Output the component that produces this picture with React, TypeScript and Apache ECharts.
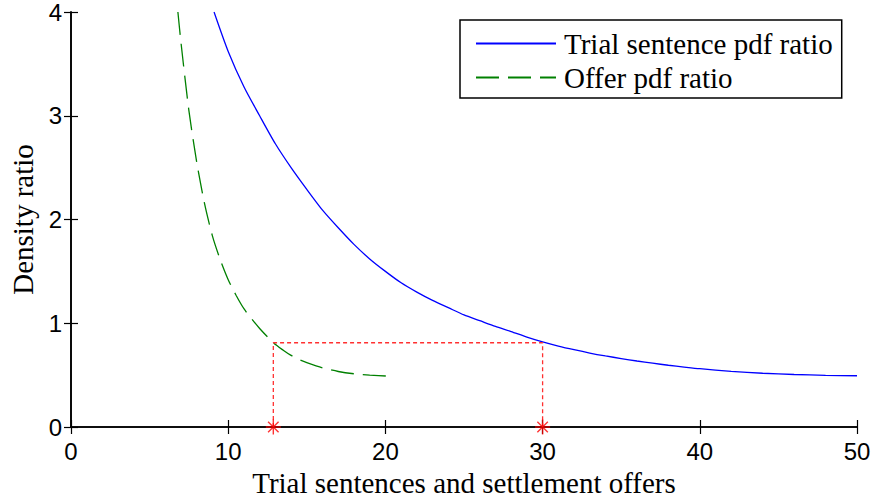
import React, { useEffect, useRef } from "react";
import * as echarts from "echarts";

const xTicks = [0, 10, 20, 30, 40, 50];
const yTicks = [0, 1, 2, 3, 4];

const trialX = [9.1, 10, 11, 12, 13, 14, 15, 16, 17, 18, 19, 20, 21, 22, 23, 24, 25, 26, 27, 28, 29, 30, 31, 32, 33, 34, 35, 36, 37, 38, 39, 40, 42, 44, 46, 48, 50];
const trialY = [4.0, 3.62, 3.28, 3.0, 2.73, 2.5, 2.29, 2.09, 1.92, 1.76, 1.62, 1.5, 1.39, 1.3, 1.22, 1.15, 1.08, 1.025, 0.97, 0.92, 0.866, 0.82, 0.78, 0.745, 0.713, 0.685, 0.66, 0.636, 0.615, 0.595, 0.578, 0.562, 0.537, 0.518, 0.506, 0.498, 0.494];

const offerX = [6.8, 7.0, 7.5, 8.0, 8.5, 9.0, 9.5, 10.0, 10.5, 11.0, 11.5, 12.0, 12.87, 13.5, 14.0, 14.5, 15, 16, 17, 18, 19, 20.2];
const offerY = [4.0, 3.7, 3.05, 2.55, 2.15, 1.84, 1.61, 1.42, 1.27, 1.14, 1.04, 0.95, 0.812, 0.74, 0.69, 0.65, 0.62, 0.57, 0.535, 0.513, 0.5, 0.49];

const guideX = [12.87, 12.87, 30, 30];
const guideY = [0, 0.812, 0.812, 0];

const markX = [12.87, 30];
const markY = [0, 0];

const seriesNames = ["Trial sentence pdf ratio", "Offer pdf ratio"];
const xTitle = "Trial sentences and settlement offers";
const yTitle = "Density ratio";

const zip = (xs: number[], ys: number[]) => xs.map((x, i) => [x, ys[i]]);

const STAR = "path://M0,-10 L0,10 M-10,0 L10,0 M-7,-7 L7,7 M-7,7 L7,-7";

export default function App() {
  const ref = useRef<HTMLDivElement>(null);
  useEffect(() => {
    if (!ref.current) return;
    const chart = echarts.init(ref.current, undefined, { renderer: "svg" });
    const axisLine = { show: true, lineStyle: { color: "#000", width: 1.6 } };
    const tick = { show: true, inside: true, length: 7, lineStyle: { color: "#000", width: 1.2 } };
    const sansLabel = { fontFamily: "Liberation Sans", fontSize: 24, color: "#000" };
    const serif = { fontFamily: "Liberation Serif", fontSize: 29, color: "#000" };
    chart.setOption({
      animation: false,
      backgroundColor: "#fff",
      grid: { left: 71, right: 18, top: 8, bottom: 74, containLabel: false },
      xAxis: [
        {
          type: "value",
          min: xTicks[0],
          max: xTicks[xTicks.length - 1],
          interval: 10,
          position: "bottom",
          axisLine,
          axisTick: tick,
          splitLine: { show: false },
          axisLabel: { ...sansLabel, margin: 12 },
          name: xTitle,
          nameLocation: "middle",
          nameGap: 41,
          nameTextStyle: serif,
        },
        {
          type: "value",
          min: xTicks[0],
          max: xTicks[xTicks.length - 1],
          interval: 10,
          position: "top",
          axisLine,
          axisTick: tick,
          splitLine: { show: false },
          axisLabel: { show: false },
        },
      ],
      yAxis: [
        {
          type: "value",
          min: yTicks[0],
          max: yTicks[yTicks.length - 1],
          interval: 1,
          position: "left",
          axisLine,
          axisTick: tick,
          splitLine: { show: false },
          axisLabel: { ...sansLabel, margin: 9 },
          name: yTitle,
          nameLocation: "middle",
          nameGap: 33,
          nameTextStyle: serif,
        },
        {
          type: "value",
          min: yTicks[0],
          max: yTicks[yTicks.length - 1],
          interval: 1,
          position: "right",
          axisLine,
          axisTick: tick,
          splitLine: { show: false },
          axisLabel: { show: false },
        },
      ],
      legend: {
        data: seriesNames,
        orient: "vertical",
        left: 460,
        top: 20,
        padding: [9, 9, 6, 15],
        itemWidth: 80,
        itemHeight: 29,
        itemGap: 5,
        borderColor: "#000",
        borderWidth: 1.5,
        backgroundColor: "#fff",
        itemStyle: { opacity: 0 },
        textStyle: { ...serif, padding: [0, 0, 0, 3] },
      },
      series: [
        {
          name: seriesNames[0],
          type: "line",
          data: zip(trialX, trialY),
          symbol: "none",
          smooth: 0.25,
          lineStyle: { color: "#0000ff", width: 1.3 },
          itemStyle: { color: "#0000ff" },
        },
        {
          name: seriesNames[1],
          type: "line",
          data: zip(offerX, offerY),
          symbol: "none",
          smooth: 0.25,
          lineStyle: { color: "#008000", width: 1.3, type: [23, 9] },
          itemStyle: { color: "#008000" },
        },
        {
          name: "guide",
          type: "line",
          data: zip(guideX, guideY),
          symbol: "none",
          lineStyle: { color: "#ff3030", width: 1.3, type: [4, 3] },
          z: 3,
        },
        {
          name: "marks",
          type: "scatter",
          data: zip(markX, markY),
          symbol: STAR,
          symbolSize: 15,
          itemStyle: { color: "none", borderColor: "#ff0000", borderWidth: 1.4 },
          z: 4,
          clip: false,
        },
      ],
    });
    return () => chart.dispose();
  }, []);
  return (
    <div
      ref={ref}
      style={{ position: "absolute", left: 0, top: 0, width: 875, height: 502, background: "#fff" }}
    />
  );
}
